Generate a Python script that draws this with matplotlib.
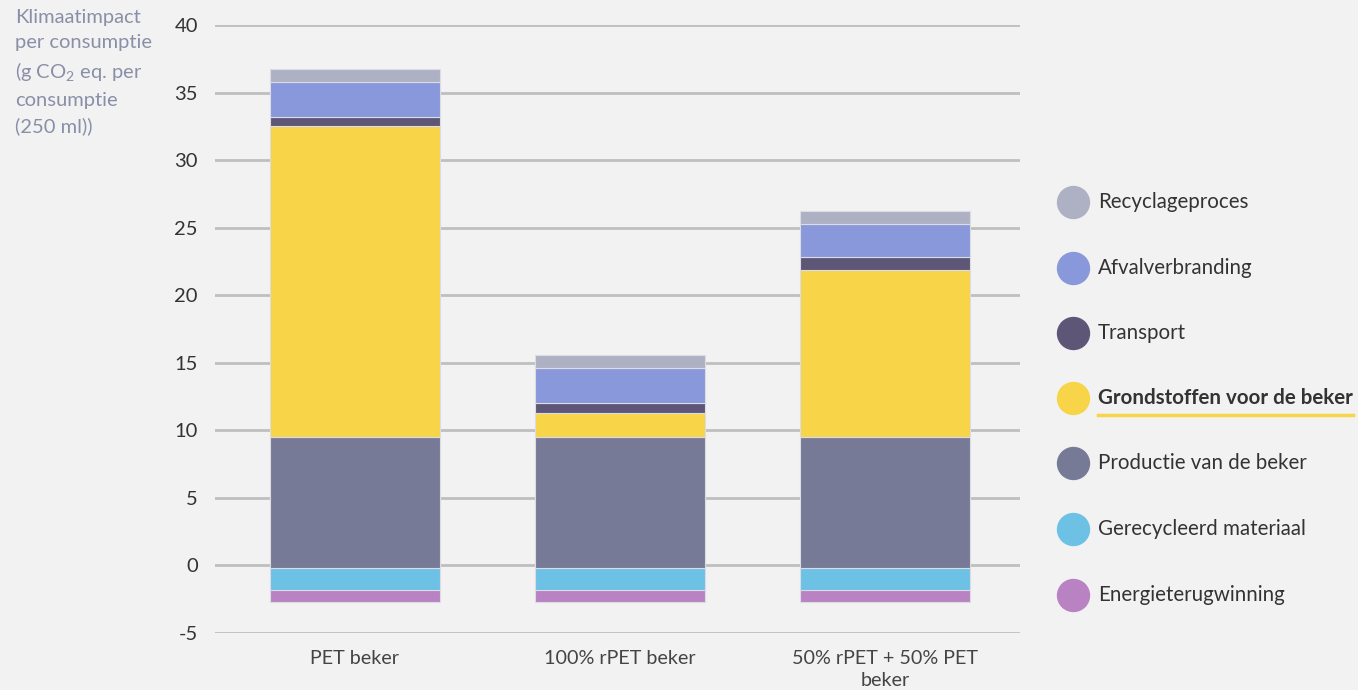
import numpy as np
import matplotlib.pyplot as plt
from matplotlib.lines import Line2D

plt.rcParams['font.family'] = ['Lato', 'DejaVu Sans']
plt.rcParams['mathtext.fontset'] = 'custom'
plt.rcParams['mathtext.rm'] = 'Lato'
plt.rcParams['axes.unicode_minus'] = False

categories = ["PET beker", "100% rPET beker", "50% rPET + 50% PET\nbeker"]
start = [-2.7, -2.7, -2.7]

# segments from bottom to top
series = ["Energieterugwinning", "Gerecycleerd materiaal", "Productie van de beker",
          "Grondstoffen voor de beker", "Transport", "Afvalverbranding", "Recyclageproces"]
energie = [0.9, 0.9, 0.9]
gerecycleerd = [1.6, 1.6, 1.6]
productie = [9.7, 9.7, 9.7]
grondstoffen = [23.0, 1.8, 12.4]
transport = [0.7, 0.7, 0.95]
afval = [2.6, 2.65, 2.4]
recyclage = [0.95, 0.9, 1.0]

colors = ["#b982c3", "#6cc1e4", "#777a96", "#f7d448", "#5e5677", "#8898db", "#aeb1c3"]

fig = plt.figure(figsize=(13.58, 6.9), dpi=100, facecolor="#f2f2f2")
ax = fig.add_axes([0.158, 0.0826, 0.593, 0.8812], facecolor="#f2f2f2")

x = np.arange(len(categories))
bottom = np.array(start, dtype=float)
for vals, col in zip([energie, gerecycleerd, productie, grondstoffen, transport, afval, recyclage], colors):
    ax.bar(x, vals, 0.64, bottom=bottom, color=col, edgecolor="#dcdce4", linewidth=0.8, zorder=3)
    bottom = bottom + np.array(vals)

ax.set_ylim(-5, 40)
ax.set_xlim(-0.53, 2.51)
ax.set_yticks(range(-5, 41, 5))
ax.yaxis.grid(True, color="#bfbfbf", linewidth=2, zorder=0)
ax.tick_params(axis="y", length=0, pad=12, labelsize=14.5, labelcolor="#333333")
ax.tick_params(axis="x", length=0, pad=12, labelsize=14.2, labelcolor="#444444")
ax.set_xticks(x)
ax.set_xticklabels(categories, linespacing=1.35)
for lab in ax.get_yticklabels():
    lab.set_horizontalalignment("right")
for s in ax.spines.values():
    s.set_visible(False)

fig.text(15 / 1358, 1 - 9 / 690,
         "Klimaatimpact\nper consumptie\n(g CO$_{\\mathregular{2}}$ eq. per\nconsumptie\n(250 ml))",
         ha="left", va="top", fontsize=14.5, color="#8a8fa8", linespacing=1.56)

# legend, top to bottom
leg_y = [202, 268, 333, 398, 463, 529, 595]
for i, (name, col) in enumerate(zip(series[::-1], colors[::-1])):
    yy = 1 - leg_y[i] / 690
    fig.add_artist(Line2D([1073 / 1358], [yy], marker="o", markersize=23,
                          color=col, linestyle="none", transform=fig.transFigure))
    bold = name == "Grondstoffen voor de beker"
    t = fig.text(1098 / 1358, yy, name, ha="left", va="center", fontsize=14.8,
                 color="#333333", fontweight="bold" if bold else "normal")
    if bold:
        fig.canvas.draw()
        bb = t.get_window_extent().transformed(fig.transFigure.inverted())
        fig.add_artist(Line2D([bb.x0, bb.x1], [bb.y0 - 0.01, bb.y0 - 0.01],
                              color="#f7d448", linewidth=2.5, transform=fig.transFigure))

fig.savefig("out.png", dpi=100, facecolor=fig.get_facecolor())
